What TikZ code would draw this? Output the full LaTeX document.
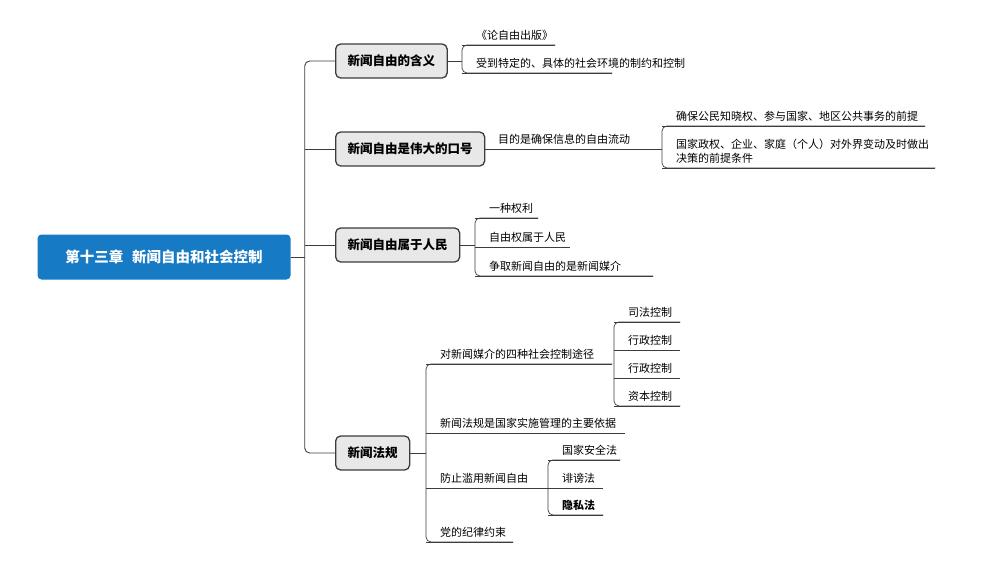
\documentclass[tikz,border=0pt]{standalone}
\usepackage{fontspec}
\setmainfont{Noto Sans CJK SC}
\usetikzlibrary{positioning}
\definecolor{rootblue}{RGB}{22,122,196}
\definecolor{topicgray}{RGB}{232,232,232}
\definecolor{linegray}{RGB}{60,60,60}
\tikzset{
   root/.style = {%
    shape=rectangle,
    rounded corners=4pt,
    fill=rootblue,
    text=white,
    minimum width=253pt, minimum height=45pt,
    font=\fontsize{14.5}{14.5}\selectfont\bfseries},
  topic/.style = {%
    shape=rectangle, anchor=west,
    rounded corners=5pt,
    draw=linegray, line width=1.3pt,
    fill=topicgray,
    minimum height=34pt, inner xsep=12pt,
    font=\fontsize{12.5}{12.5}\selectfont\bfseries},
   item/.style = {%
    anchor=south west,
    inner xsep=14pt, inner ysep=4pt,
    text width=#1, align=left,
    font=\fontsize{11}{14}\selectfont},
   link/.style = {draw=linegray, line width=0.9pt, rounded corners=5pt},
    }
\begin{document}
\begin{tikzpicture}[x=1pt,y=-1pt]
    \useasboundingbox (0,0) rectangle (1003,580);
    % main nodes
    \node[root] (r) at (164,257) {第十三章\hspace{0.6em}新闻自由和社会控制};
    \node[topic] (a) at (335,61) {新闻自由的含义};
    \node[topic] (b) at (335,149) {新闻自由是伟大的口号};
    \node[topic] (c) at (335,245) {新闻自由属于人民};
    \node[topic] (d) at (335,453) {新闻法规};
    % items
    \node[item=65pt]  (a1) at (462,45)  {《论自由出版》};
    \node[item=122pt] (a2) at (462,73)  {受到特定的、具体的社会环境的制约和控制};
    \node[item=148pt] (b1) at (484,149) {目的是确保信息的自由流动};
    \node[item=235pt] (b2) at (662,126) {确保公民知晓权、参与国家、地区公共事务的前提};
    \node[item=245pt] (b3) at (662,168) {国家政权、企业、家庭（个人）对外界变动及时做出\\决策的前提条件};
    \node[item=35pt]  (c1) at (475,218) {一种权利};
    \node[item=67pt]  (c2) at (475,247) {自由权属于人民};
    \node[item=150pt] (c3) at (475,276) {争取新闻自由的是新闻媒介};
    \node[item=158pt] (d1) at (426,364) {对新闻媒介的四种社会控制途径};
    \node[item=171pt] (d2) at (426,433) {新闻法规是国家实施管理的主要依据};
    \node[item=101pt] (d3) at (426,488) {防止滥用新闻自由};
    \node[item=59pt]  (d4) at (426,542) {党的纪律约束};
    \node[item=38pt]  (e1) at (614,322) {司法控制};
    \node[item=38pt]  (e2) at (614,350) {行政控制};
    \node[item=38pt]  (e3) at (614,378) {行政控制};
    \node[item=38pt]  (e4) at (614,406) {资本控制};
    \node[item=44pt]  (f1) at (548,460) {国家安全法};
    \node[item=27pt]  (f2) at (548,488) {诽谤法};
    \node[item=27pt,font=\fontsize{11}{14}\selectfont\bfseries] (f3) at (548,515) {隐私法};
    % underlines
    \foreach \n in {a1,a2,b1,b2,b3,c1,c2,c3,d1,d2,d3,d4,e1,e2,e3,e4,f1,f2,f3}
        \draw[link, line width=0.7pt] (\n.south west) -- (\n.south east);
    % trunk
    \draw[link] (r.east) -- ++(14,0) coordinate (t);
    \draw[link] (a.west) -| (t) |- (d.west);
    \draw[link] (t |- b.west) -- (b.west);
    \draw[link] (t |- c.west) -- (c.west);
    % brackets
    \draw[link] (a.east) -- (a.east -| a1.west);
    \draw[link, line width=0.7pt] (a1.south east) -- (a1.south west) -- (a2.south west) -- (a2.south east);
    \draw[link, line width=0.7pt] (b2.south east) -- (b2.south west) -- (b3.south west) -- (b3.south east);
    \draw[link, line width=0.7pt] (b1.south east) -- (b1.south east -| b2.west);
    \draw[link] (c.east) -- (c.east -| c1.west);
    \draw[link, line width=0.7pt] (c1.south east) -- (c1.south west) -- (c3.south west) -- (c3.south east);
    \draw[link] (d.east) -- (d.east -| d1.west);
    \draw[link, line width=0.7pt] (d1.south east) -- (d1.south west) -- (d4.south west) -- (d4.south east);
    \draw[link, line width=0.7pt] (e1.south east) -- (e1.south west) -- (e4.south west) -- (e4.south east);
    \draw[link, line width=0.7pt] (f1.south east) -- (f1.south west) -- (f3.south west) -- (f3.south east);
\end{tikzpicture}
\end{document}
